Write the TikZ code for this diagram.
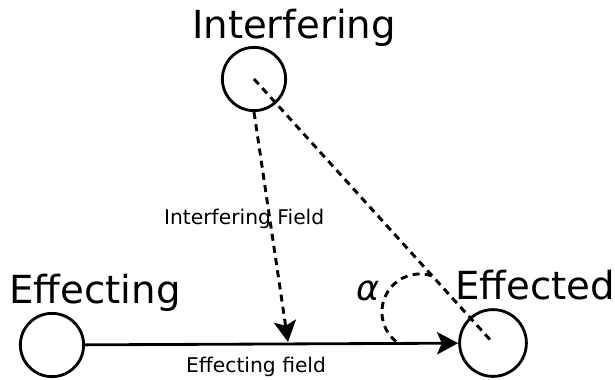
\documentclass[tikz,border=0pt]{standalone}
\usepackage{fontspec}
\setmainfont{DejaVu Sans}
\usetikzlibrary{arrows.meta}

\begin{document}
\begin{tikzpicture}[x=0.03cm,y=0.03cm,
    agent/.style={draw, circle, line width=2.4pt, minimum size=54pt, inner sep=0pt},
    bigtext/.style={font=\fontsize{33}{37}\selectfont, anchor=base},
    smalltext/.style={font=\fontsize{17.3}{20}\selectfont, anchor=base west},
    field/.style={line width=2.4pt, -{Stealth[length=18pt,width=19pt,inset=4pt]}},
    dashpat/.style={line width=2.5pt, dash pattern=on 6pt off 4.5pt}]
				\useasboundingbox (0,0) rectangle (615,379);
				%
				% the three bodies
				\node[agent] (interf) at (254,300) {};
				\node[agent] (effing) at (52,34) {};
				\node[agent, minimum size=57pt] (effed) at (493,36) {};
				%
				\node[bigtext] (interflabel) at (294,341) {Interfering};
				\node[bigtext] (effinglabel) at (95,76) {Effecting};
				\node[bigtext] (effedlabel) at (535,80) {Effected};
				%
				% fields
				\coordinate (tip) at (288,37);
				\draw[field] (effing) -- (effed);
				\draw[field, dashpat] (interf.south) -- (tip);
				\draw[dashpat] (interf.center) -- (effed.center);
				\draw[dashpat] (396,37.5) arc[start angle=231, end angle=69, radius=38];
				%
				\node[smalltext] (interffield) at (160,155) {Interfering Field};
				\node[smalltext] (effingfield) at (182,7) {Effecting field};
				\node[font=\fontsize{30}{34}\selectfont\itshape] (angle) at (368,88) {α};
			\end{tikzpicture}
\end{document}
